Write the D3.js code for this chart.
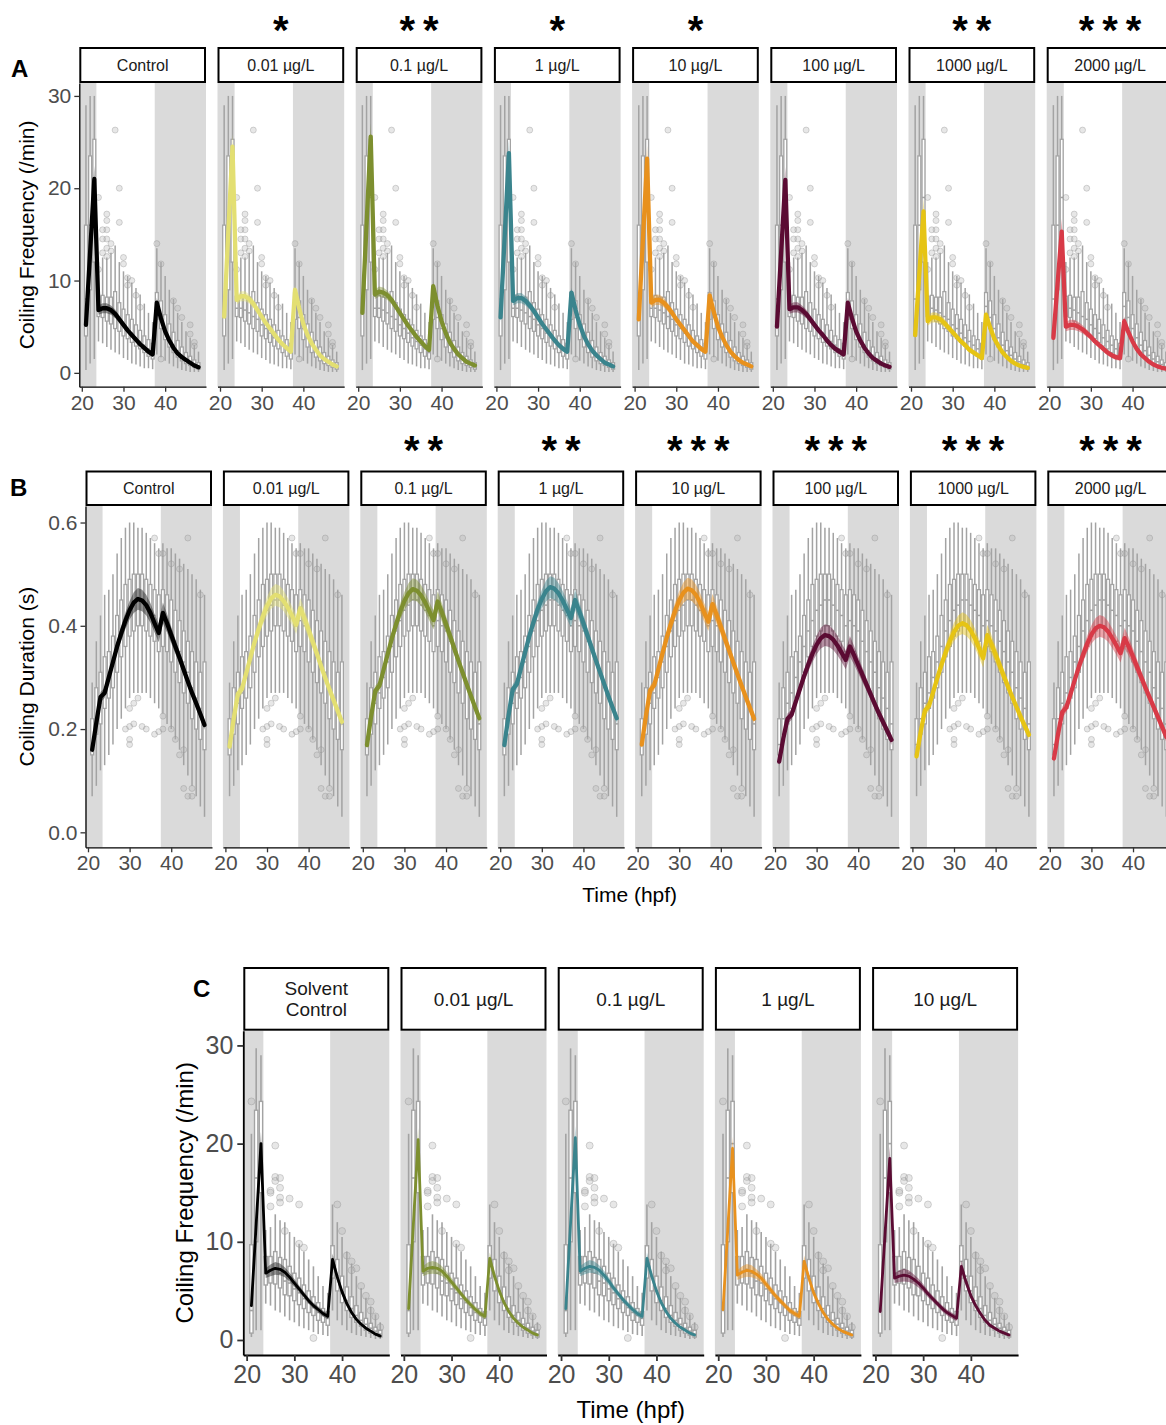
<!DOCTYPE html>
<html>
<head>
<meta charset="utf-8">
<script src="https://cdn.jsdelivr.net/npm/d3@7"></script>
<style>
  body { margin: 0; background: #fff; }
  svg { display: block; }
  text { font-family: "Liberation Sans", Arial, Helvetica, sans-serif; }
</style>
</head>
<body>
<svg id="fig" width="1166" height="1425"></svg>
<script>
// ---- time points (hours post fertilisation) ----
const hpf = [21,22,23,24,25,26,27,28,29,30,31,32,33,34,35,36,37,38,39,40,41,42,43,44,45,46,47,48];
const xTicks = [20, 30, 40];
// dark phases of the light cycle (hpf)
const darkPhases = [[0, 23.5], [37.5, 99]];

// ---- facets ----
const dosesAB = ["Control", "0.01 µg/L", "0.1 µg/L", "1 µg/L", "10 µg/L", "100 µg/L", "1000 µg/L", "2000 µg/L"];
const colorsAB = ["#000000", "#e3df72", "#7d8f2f", "#3a848d", "#e8911d", "#5b0b33", "#e6c414", "#d83a47"];
const dosesC = ["Solvent\nControl", "0.01 µg/L", "0.1 µg/L", "1 µg/L", "10 µg/L"];
const colorsC = ["#000000", "#7d8f2f", "#3a848d", "#e8911d", "#5b0b33"];
const starsA = ["", "*", "**", "*", "*", "", "**", "***"];
const starsB = ["", "", "**", "**", "***", "***", "***", "***"];

// ---- A: coiling frequency (/min), fitted curves per dose ----
const fitA = [
  [5.2, 13.1, 21.0, 6.8, 7.0, 7.0, 6.8, 6.4, 5.8, 5.2, 4.6, 4.1, 3.6, 3.1, 2.7, 2.3, 2.0, 7.6, 5.9, 4.5, 3.5, 2.7, 2.1, 1.7, 1.4, 1.1, 0.8, 0.6],
  [6.1, 15.3, 24.5, 7.9, 8.3, 8.3, 8.0, 7.5, 6.8, 6.1, 5.4, 4.8, 4.2, 3.6, 3.1, 2.7, 2.3, 9.0, 7.0, 5.3, 4.1, 3.2, 2.5, 1.9, 1.5, 1.2, 0.9, 0.7],
  [6.5, 16.0, 25.6, 8.5, 8.8, 8.7, 8.4, 7.9, 7.2, 6.5, 5.8, 5.1, 4.5, 3.9, 3.4, 2.9, 2.5, 9.4, 7.3, 5.6, 4.3, 3.3, 2.6, 2.0, 1.6, 1.2, 1.0, 0.8],
  [6.0, 14.9, 23.8, 7.8, 8.1, 8.1, 7.8, 7.3, 6.7, 6.0, 5.3, 4.7, 4.1, 3.5, 3.0, 2.6, 2.3, 8.7, 6.8, 5.2, 4.0, 3.1, 2.4, 1.9, 1.5, 1.1, 0.9, 0.7],
  [5.8, 14.5, 23.2, 7.6, 7.9, 7.9, 7.6, 7.1, 6.5, 5.8, 5.2, 4.6, 4.0, 3.4, 3.0, 2.6, 2.3, 8.4, 6.6, 5.0, 3.9, 3.0, 2.3, 1.8, 1.4, 1.1, 0.9, 0.7],
  [5.0, 13.0, 20.9, 6.9, 7.1, 7.1, 6.8, 6.4, 5.8, 5.2, 4.6, 4.1, 3.5, 3.0, 2.6, 2.3, 2.0, 7.6, 5.9, 4.5, 3.5, 2.7, 2.1, 1.6, 1.3, 1.0, 0.8, 0.65],
  [4.1, 10.8, 17.5, 5.6, 6.0, 6.0, 5.8, 5.4, 4.9, 4.4, 3.9, 3.4, 3.0, 2.5, 2.2, 1.9, 1.6, 6.3, 4.9, 3.7, 2.9, 2.2, 1.7, 1.3, 1.0, 0.8, 0.65, 0.55],
  [3.8, 9.6, 15.3, 5.0, 5.2, 5.2, 5.0, 4.7, 4.3, 3.9, 3.4, 3.0, 2.6, 2.2, 1.9, 1.7, 1.6, 5.6, 4.4, 3.4, 2.6, 2.0, 1.6, 1.2, 0.9, 0.7, 0.55, 0.45]
];
// confidence band half-widths
const bandA = [0.6, 0.9, 1.4, 0.5, 0.55, 0.55, 0.5, 0.45, 0.4, 0.35, 0.3, 0.3, 0.3, 0.3, 0.3, 0.3, 0.3, 0.5, 0.4, 0.35, 0.3, 0.25, 0.2, 0.2, 0.15, 0.15, 0.15, 0.15];
// boxplot summaries per time point: [lower whisker, Q1, median, Q3, upper whisker]
const boxA = [
  [0.3, 4.0, 8.0, 16.0, 29.0], [1.0, 9.0, 16.0, 23.5, 30.0], [1.5, 12.0, 19.0, 25.3, 30.0],
  [3.4, 6.1, 7.0, 8.3, 12.0], [3.2, 6.0, 7.0, 8.4, 12.5], [2.8, 5.6, 6.8, 8.2, 12.5],
  [2.5, 5.3, 6.5, 8.2, 13.0], [2.2, 4.8, 6.1, 8.8, 13.8], [2.0, 4.5, 5.8, 7.6, 12.0],
  [1.6, 4.0, 5.2, 6.9, 11.0], [1.4, 3.7, 4.8, 6.3, 10.5], [1.0, 3.3, 4.3, 5.8, 9.8],
  [0.9, 2.9, 3.8, 5.2, 9.2], [0.7, 2.6, 3.4, 4.6, 8.5], [0.5, 2.2, 3.0, 4.0, 7.5],
  [0.5, 1.8, 2.6, 3.6, 6.5], [0.4, 1.5, 2.2, 3.2, 5.5], [2.0, 5.8, 7.2, 8.7, 13.5],
  [1.7, 4.8, 6.0, 7.8, 12.0], [1.3, 3.6, 4.8, 6.3, 10.5], [1.0, 2.8, 3.8, 5.3, 9.0],
  [0.7, 2.2, 3.0, 4.4, 8.0], [0.5, 1.7, 2.4, 3.5, 6.5], [0.3, 1.3, 1.9, 2.8, 5.5],
  [0.2, 1.0, 1.5, 2.2, 4.5], [0.1, 0.8, 1.2, 1.8, 3.8], [0.1, 0.6, 0.9, 1.4, 3.0],
  [0.1, 0.4, 0.7, 1.1, 2.3]
];
const outliersA = [
  [28, 26.3], [29, 20.0], [24, 19.0], [29, 16.3], [26, 17.2], [26, 16.5], [26, 15.5], [25, 15.5],
  [25, 14.5], [26, 14.5], [27, 14.0], [26, 13.5], [27, 13.2], [25, 13.0], [26, 12.6], [30, 12.5],
  [30, 11.8], [31, 10.3], [32, 10.0], [31, 9.5], [33, 8.4], [34, 7.1], [38, 14.0], [39, 11.8],
  [42, 7.8], [43, 7.0], [44, 6.0], [46, 5.2], [46, 4.2], [47, 3.3], [47, 2.9], [39, 1.5], [24, 11.2]
];

// ---- B: coiling duration (s) ----
const fitB = [
  [0.160, 0.212, 0.262, 0.270, 0.300, 0.330, 0.360, 0.386, 0.410, 0.430, 0.445, 0.452, 0.449, 0.440, 0.425, 0.405, 0.386, 0.425, 0.405, 0.382, 0.360, 0.338, 0.315, 0.292, 0.270, 0.250, 0.229, 0.208],
  [0.166, 0.220, 0.268, 0.278, 0.308, 0.338, 0.368, 0.394, 0.418, 0.438, 0.453, 0.460, 0.457, 0.448, 0.435, 0.420, 0.402, 0.434, 0.414, 0.392, 0.369, 0.346, 0.322, 0.299, 0.277, 0.256, 0.235, 0.214],
  [0.169, 0.224, 0.274, 0.284, 0.315, 0.346, 0.376, 0.403, 0.428, 0.448, 0.463, 0.471, 0.468, 0.459, 0.445, 0.428, 0.411, 0.447, 0.426, 0.403, 0.380, 0.356, 0.332, 0.309, 0.286, 0.264, 0.242, 0.221],
  [0.169, 0.226, 0.277, 0.287, 0.318, 0.349, 0.380, 0.407, 0.432, 0.452, 0.467, 0.475, 0.472, 0.463, 0.449, 0.432, 0.415, 0.450, 0.428, 0.405, 0.381, 0.357, 0.333, 0.310, 0.287, 0.264, 0.242, 0.221],
  [0.170, 0.225, 0.275, 0.285, 0.316, 0.347, 0.377, 0.404, 0.429, 0.449, 0.464, 0.472, 0.469, 0.460, 0.445, 0.426, 0.408, 0.442, 0.421, 0.398, 0.375, 0.352, 0.329, 0.306, 0.284, 0.262, 0.241, 0.220],
  [0.137, 0.182, 0.220, 0.228, 0.253, 0.278, 0.303, 0.325, 0.346, 0.363, 0.376, 0.382, 0.380, 0.373, 0.362, 0.348, 0.334, 0.360, 0.343, 0.324, 0.305, 0.286, 0.267, 0.248, 0.230, 0.213, 0.196, 0.179],
  [0.147, 0.195, 0.236, 0.245, 0.272, 0.299, 0.325, 0.349, 0.370, 0.388, 0.400, 0.405, 0.401, 0.391, 0.376, 0.357, 0.337, 0.382, 0.364, 0.344, 0.323, 0.302, 0.282, 0.262, 0.243, 0.224, 0.206, 0.189],
  [0.143, 0.191, 0.233, 0.242, 0.268, 0.295, 0.321, 0.344, 0.365, 0.383, 0.395, 0.400, 0.397, 0.389, 0.376, 0.362, 0.347, 0.376, 0.359, 0.340, 0.320, 0.300, 0.280, 0.261, 0.242, 0.223, 0.204, 0.185]
];
const bandB = [0.008, 0.008, 0.010, 0.010, 0.010, 0.011, 0.012, 0.014, 0.016, 0.018, 0.020, 0.021, 0.021, 0.020, 0.019, 0.018, 0.018, 0.020, 0.018, 0.016, 0.014, 0.012, 0.011, 0.010, 0.010, 0.010, 0.010, 0.010];
const boxB = [
  [0.07, 0.15, 0.17, 0.22, 0.29], [0.09, 0.19, 0.22, 0.28, 0.37], [0.12, 0.21, 0.25, 0.31, 0.42],
  [0.13, 0.24, 0.27, 0.34, 0.46], [0.15, 0.26, 0.30, 0.35, 0.47], [0.17, 0.28, 0.33, 0.38, 0.50],
  [0.20, 0.31, 0.36, 0.42, 0.54], [0.22, 0.34, 0.39, 0.45, 0.57], [0.24, 0.36, 0.41, 0.48, 0.59],
  [0.26, 0.38, 0.43, 0.49, 0.60], [0.27, 0.39, 0.44, 0.50, 0.60], [0.27, 0.40, 0.45, 0.50, 0.59],
  [0.27, 0.40, 0.45, 0.50, 0.59], [0.27, 0.39, 0.44, 0.49, 0.58], [0.26, 0.38, 0.43, 0.48, 0.57],
  [0.25, 0.37, 0.42, 0.47, 0.56], [0.24, 0.35, 0.40, 0.46, 0.55], [0.23, 0.36, 0.41, 0.47, 0.56],
  [0.21, 0.35, 0.40, 0.46, 0.55], [0.20, 0.33, 0.39, 0.45, 0.55], [0.18, 0.31, 0.37, 0.43, 0.54],
  [0.16, 0.29, 0.35, 0.41, 0.53], [0.13, 0.27, 0.33, 0.39, 0.52], [0.11, 0.25, 0.31, 0.37, 0.51],
  [0.09, 0.22, 0.28, 0.35, 0.50], [0.07, 0.20, 0.26, 0.33, 0.49], [0.05, 0.18, 0.24, 0.31, 0.47],
  [0.03, 0.16, 0.21, 0.33, 0.46]
];
const outliersB = [
  [36, 0.57], [37, 0.54], [38, 0.54], [40, 0.52], [42, 0.51], [44, 0.57], [47, 0.46],
  [30, 0.24], [31, 0.21], [29, 0.20], [30, 0.205], [30, 0.18], [30, 0.17], [32, 0.26], [31, 0.25],
  [33, 0.205], [34, 0.20], [36, 0.19], [37, 0.195], [38, 0.20], [38, 0.225], [40, 0.20],
  [41, 0.18], [42, 0.15], [43, 0.16], [43, 0.085], [44, 0.07], [45, 0.085], [45, 0.07]
];

// ---- C: coiling frequency (/min), solvent series ----
const fitC = [
  [3.5, 11.8, 20.0, 6.8, 7.1, 7.3, 7.2, 6.9, 6.4, 5.8, 5.2, 4.6, 4.0, 3.5, 3.1, 2.7, 2.4, 8.2, 6.4, 4.9, 3.7, 2.8, 2.1, 1.6, 1.2, 0.9, 0.6, 0.4],
  [3.2, 11.8, 20.4, 7.0, 7.3, 7.4, 7.3, 7.0, 6.5, 5.9, 5.3, 4.7, 4.1, 3.6, 3.1, 2.7, 2.4, 8.3, 6.5, 5.0, 3.8, 2.9, 2.2, 1.7, 1.3, 1.0, 0.7, 0.5],
  [3.2, 11.9, 20.6, 7.0, 7.3, 7.5, 7.4, 7.1, 6.6, 6.0, 5.3, 4.7, 4.1, 3.6, 3.1, 2.7, 2.4, 8.3, 6.5, 5.0, 3.8, 2.9, 2.2, 1.7, 1.3, 1.0, 0.7, 0.5],
  [3.1, 11.3, 19.5, 6.6, 6.9, 7.1, 7.0, 6.7, 6.3, 5.7, 5.1, 4.5, 4.0, 3.5, 3.0, 2.7, 2.4, 8.0, 6.3, 4.8, 3.7, 2.8, 2.1, 1.6, 1.2, 0.9, 0.7, 0.5],
  [2.9, 10.7, 18.5, 6.3, 6.5, 6.6, 6.5, 6.2, 5.8, 5.3, 4.7, 4.2, 3.7, 3.2, 2.8, 2.5, 2.2, 7.5, 5.9, 4.5, 3.5, 2.7, 2.0, 1.5, 1.2, 0.9, 0.7, 0.5]
];
const bandC = [0.6, 0.9, 1.2, 0.5, 0.6, 0.65, 0.6, 0.5, 0.45, 0.4, 0.35, 0.3, 0.3, 0.3, 0.3, 0.3, 0.3, 0.6, 0.45, 0.35, 0.3, 0.25, 0.2, 0.2, 0.15, 0.15, 0.15, 0.15];
const boxC = [
  [0.3, 0.7, 3.0, 9.7, 21.0], [1.0, 10.0, 16.5, 23.4, 29.7], [1.0, 15.0, 20.0, 24.3, 29.0],
  [3.7, 5.6, 6.8, 8.5, 11.2], [3.5, 5.8, 7.0, 8.5, 11.5], [3.0, 5.7, 7.2, 9.0, 12.8],
  [2.8, 5.3, 6.8, 8.4, 12.2], [2.4, 4.6, 6.0, 8.2, 12.0], [2.0, 4.5, 5.8, 7.5, 11.0],
  [1.8, 4.0, 5.2, 6.8, 10.5], [1.4, 3.6, 4.8, 6.3, 9.8], [1.2, 3.2, 4.2, 5.6, 9.0],
  [1.0, 2.8, 3.8, 5.0, 8.2], [0.8, 2.5, 3.3, 4.4, 7.5], [0.6, 2.0, 2.8, 3.8, 6.5],
  [0.5, 1.8, 2.5, 3.2, 5.5], [0.4, 1.5, 2.2, 2.9, 4.8], [3.0, 6.3, 8.0, 9.6, 13.8],
  [2.0, 5.0, 6.5, 8.2, 12.0], [1.5, 3.8, 5.0, 6.5, 10.5], [1.0, 3.0, 4.0, 5.4, 9.0],
  [0.7, 2.3, 3.2, 4.4, 7.8], [0.5, 1.8, 2.5, 3.5, 6.5], [0.4, 1.4, 2.0, 2.8, 5.3],
  [0.3, 1.0, 1.6, 2.2, 4.3], [0.2, 0.7, 1.2, 1.7, 3.4], [0.1, 0.5, 0.9, 1.3, 2.6],
  [0.1, 0.3, 0.6, 1.0, 1.8]
];
const outliersC = [
  [21, 24.3], [25, 15.2], [25, 15.0], [25, 13.6], [26, 19.8], [26, 16.6], [26, 16.2], [27, 16.5],
  [27, 15.5], [27, 14.5], [27, 14.0], [28, 11.1], [29, 14.4], [31, 13.8], [31, 9.8], [32, 9.4],
  [34, 0.2], [39, 13.8], [40, 11.1], [41, 8.6], [42, 8.0], [42, 7.1], [43, 7.3], [44, 5.5],
  [45, 4.5], [46, 3.9], [46, 3.0], [47, 2.4], [48, 1.3]
];

const svg = d3.select("#fig");
const INK = "#4d4d4d";
const BOX = "#a3a3a3";

function drawRow(R) {
  const g = svg.append("g");
  const y = d3.scaleLinear().domain(R.yDom).range([R.bottom, R.top]);

  R.labels.forEach((lab, i) => {
    const x0 = R.left + i * R.step;
    const x = d3.scaleLinear().domain(R.xDom).range([x0, x0 + R.w]);
    const p = g.append("g");

    // light/dark background bands
    darkPhases.forEach(([a, b]) => {
      const lo = Math.max(a, R.xDom[0]), hi = Math.min(b, R.xDom[1]);
      p.append("rect").attr("x", x(lo)).attr("width", x(hi) - x(lo))
        .attr("y", R.top).attr("height", R.bottom - R.top).attr("fill", "#dadada");
    });

    // boxplots
    const bw = (x(R.boxWidth) - x(0)) / 2;
    hpf.forEach((t, k) => {
      const [lo, q1, md, q3, hi] = R.boxes[k];
      const cx = x(t);
      p.append("line").attr("x1", cx).attr("x2", cx).attr("y1", y(hi)).attr("y2", y(q3))
        .attr("stroke", BOX).attr("stroke-width", R.boxStroke);
      p.append("line").attr("x1", cx).attr("x2", cx).attr("y1", y(q1)).attr("y2", y(lo))
        .attr("stroke", BOX).attr("stroke-width", R.boxStroke);
      p.append("rect").attr("x", cx - bw).attr("width", 2 * bw)
        .attr("y", y(q3)).attr("height", y(q1) - y(q3))
        .attr("fill", "#ffffff").attr("stroke", BOX).attr("stroke-width", R.boxStroke * 0.85);
      p.append("line").attr("x1", cx - bw).attr("x2", cx + bw).attr("y1", y(md)).attr("y2", y(md))
        .attr("stroke", BOX).attr("stroke-width", R.boxStroke);
    });

    // outlying observations
    p.selectAll("circle.o").data(R.outliers).join("circle")
      .attr("cx", d => x(d[0])).attr("cy", d => y(d[1])).attr("r", R.pointR)
      .attr("fill", "#b0b0b0").attr("fill-opacity", 0.3)
      .attr("stroke", "#8c8c8c").attr("stroke-opacity", 0.35).attr("stroke-width", 1);

    // fitted curve with confidence band
    const fit = R.fits[i];
    const col = R.colors[i];
    const pts = hpf.map((t, k) => ({ t, v: fit[k], b: R.band[k] }));
    p.append("path").datum(pts)
      .attr("d", d3.area().x(d => x(d.t)).y0(d => y(d.v - d.b)).y1(d => y(d.v + d.b)))
      .attr("fill", i === 0 ? "#3a3a3a" : col).attr("fill-opacity", i === 0 ? 0.55 : 0.45);
    p.append("path").datum(pts)
      .attr("d", d3.line().x(d => x(d.t)).y(d => y(d.v)))
      .attr("fill", "none").attr("stroke", col).attr("stroke-width", R.lineW)
      .attr("stroke-linejoin", "round").attr("stroke-linecap", "round");

    // strip
    const sg = p.append("g");
    sg.append("rect").attr("x", x0 + 1).attr("y", R.stripTop + 1)
      .attr("width", R.w - 2).attr("height", R.top - R.stripTop - 2)
      .attr("fill", "#fff").attr("stroke", "#000").attr("stroke-width", 2);
    const lines = lab.split("\n");
    const midY = (R.stripTop + R.top) / 2;
    lines.forEach((ln, j) => {
      sg.append("text").attr("x", x0 + R.w / 2)
        .attr("y", midY + (j - (lines.length - 1) / 2) * R.stripFont * 1.12)
        .attr("dy", "0.36em").attr("text-anchor", "middle")
        .attr("font-size", R.stripFont).attr("fill", "#1a1a1a").text(ln);
    });

    // significance stars
    if (R.stars) {
      const s = R.stars[i];
      for (let k = 0; k < s.length; k++) {
        p.append("text").attr("x", x0 + R.w / 2 + (k - (s.length - 1) / 2) * 23.5)
          .attr("y", R.starY).attr("text-anchor", "middle")
          .attr("font-size", 40).attr("font-weight", "bold").attr("fill", "#000").text("*");
      }
    }

    // x axis
    const ax = p.append("g").attr("transform", `translate(0,${R.bottom})`)
      .call(d3.axisBottom(x).tickValues(xTicks).tickSize(R.tickLen).tickSizeOuter(0).tickPadding(R.tickPad));
    ax.select(".domain").attr("stroke", "#000").attr("stroke-width", R.axisW);
    ax.selectAll(".tick line").attr("stroke", "#333").attr("stroke-width", R.axisW);
    ax.selectAll(".tick text").attr("font-size", R.tickFont).attr("fill", INK)
      .attr("font-family", '"Liberation Sans", Arial, sans-serif');

    // y axis on the first facet only
    if (i === 0) {
      const ay = p.append("g").attr("transform", `translate(${x0},0)`)
        .call(d3.axisLeft(y).tickValues(R.yTicks).tickFormat(R.yFmt).tickSize(R.tickLen).tickSizeOuter(0).tickPadding(R.tickPad));
      ay.select(".domain").attr("stroke", "#000").attr("stroke-width", R.axisW);
      ay.selectAll(".tick line").attr("stroke", "#333").attr("stroke-width", R.axisW);
      ay.selectAll(".tick text").attr("font-size", R.tickFont).attr("fill", INK)
        .attr("font-family", '"Liberation Sans", Arial, sans-serif');
    }
  });

  // y title
  svg.append("text")
    .attr("transform", `translate(${R.yTitleX},${(R.top + R.bottom) / 2}) rotate(-90)`)
    .attr("text-anchor", "middle").attr("font-size", R.titleFont).attr("fill", "#000")
    .text(R.yTitle);
  if (R.xTitle) {
    const left = R.left, right = R.left + (R.labels.length - 1) * R.step + R.w;
    svg.append("text").attr("x", (left + right) / 2).attr("y", R.xTitleY)
      .attr("text-anchor", "middle").attr("font-size", R.titleFont).attr("fill", "#000").text(R.xTitle);
  }
  svg.append("text").attr("x", R.tag[1]).attr("y", R.tag[2])
    .attr("font-size", 24).attr("font-weight", "bold").attr("fill", "#000").text(R.tag[0]);
}

drawRow({
  labels: dosesAB, colors: colorsAB, fits: fitA, band: bandA, boxes: boxA, outliers: outliersA,
  stars: starsA, starY: 44,
  left: 79.3, step: 138.2, w: 126.7, top: 83, bottom: 386.7, stripTop: 47,
  xDom: [19.4, 49.8], yDom: [-1.5, 31.4], yTicks: [0, 10, 20, 30], yFmt: d3.format("d"),
  boxWidth: 0.7, boxStroke: 1.5, pointR: 3, lineW: 4.3,
  tickLen: 5, tickPad: 3, tickFont: 21, axisW: 1.3, stripFont: 16, titleFont: 21,
  yTitle: "Coiling Frequency (/min)", yTitleX: 34, tag: ["A", 11, 77]
});

drawRow({
  labels: dosesAB, colors: colorsAB, fits: fitB, band: bandB, boxes: boxB, outliers: outliersB,
  stars: starsB, starY: 464,
  left: 85.5, step: 137.4, w: 126.5, top: 506, bottom: 847.3, stripTop: 470.5,
  xDom: [19.4, 49.8], yDom: [-0.029, 0.632], yTicks: [0, 0.2, 0.4, 0.6], yFmt: d3.format(".1f"),
  boxWidth: 0.7, boxStroke: 1.5, pointR: 3, lineW: 4.3,
  tickLen: 5, tickPad: 3, tickFont: 21, axisW: 1.3, stripFont: 16, titleFont: 21,
  yTitle: "Coiling Duration (s)", yTitleX: 34, xTitle: "Time (hpf)", xTitleY: 902,
  tag: ["B", 10, 496]
});

drawRow({
  labels: dosesC, colors: colorsC, fits: fitC, band: bandC, boxes: boxC, outliers: outliersC,
  stars: null,
  left: 243.3, step: 157.2, w: 146, top: 1030.7, bottom: 1355, stripTop: 967,
  xDom: [19.3, 49.9], yDom: [-1.53, 31.5], yTicks: [0, 10, 20, 30], yFmt: d3.format("d"),
  boxWidth: 0.7, boxStroke: 1.6, pointR: 3.5, lineW: 2.8,
  tickLen: 6, tickPad: 4, tickFont: 25, axisW: 1.8, stripFont: 19, titleFont: 24,
  yTitle: "Coiling Frequency (/min)", yTitleX: 193, xTitle: "Time (hpf)", xTitleY: 1418,
  tag: ["C", 193, 997]
});
</script>
</body>
</html>
